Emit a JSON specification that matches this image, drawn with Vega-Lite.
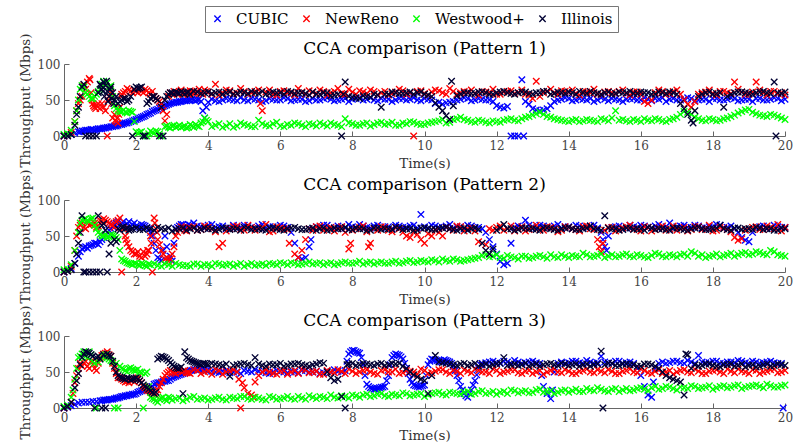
{
"$schema":"https://vega.github.io/schema/vega-lite/v6.json",
"background":"white",
"padding":{"left":18,"top":5,"right":5,"bottom":0},
"bounds":"flush",
"spacing":64,
"config":{
 "view":{"stroke":null},
 "font":"DejaVu Serif",
 "point":{"shape":"M-1,-1L1,1M-1,1L1,-1","filled":false,"size":42,"strokeWidth":1.35,"opacity":1},
 "axis":{"domainColor":"#666","tickColor":"#666","labelColor":"#444","titleColor":"#333","labelFont":"DejaVu Serif","titleFont":"DejaVu Serif","labelFontSize":12,"titleFontSize":13.5,"titleFontWeight":"normal","grid":false,"tickSize":-5,"labelPadding":9,"labelFlush":false},
 "axisX":{"titlePadding":5},
 "axisY":{"titlePadding":5},
 "title":{"font":"DejaVu Serif","fontSize":17,"fontWeight":"normal","color":"black","anchor":"middle","frame":"group","offset":-25},
 "legend":{"orient":"none","legendX":141,"legendY":-58,"direction":"horizontal","strokeColor":"#777","fillColor":"white","padding":5,"labelFont":"DejaVu Serif","labelFontSize":15,"labelColor":"black","labelOffset":11,"columnPadding":10,"symbolType":"M-1,-1L1,1M-1,1L1,-1","symbolSize":40,"symbolStrokeWidth":1.3}
},
"datasets":{
"p1c":[{"t":0,"y":0},{"t":0.1,"y":1},{"t":0.2,"y":2},{"t":0.3,"y":4},{"t":0.4,"y":6},{"t":0.5,"y":7},{"t":0.6,"y":8},{"t":0.7,"y":8},{"t":0.8,"y":9},{"t":0.9,"y":9},{"t":1,"y":10},{"t":1.1,"y":11},{"t":1.2,"y":12},{"t":1.3,"y":13},{"t":1.4,"y":14},{"t":1.5,"y":15},{"t":1.6,"y":16},{"t":1.7,"y":18},{"t":1.8,"y":19},{"t":1.9,"y":21},{"t":2,"y":23},{"t":2.1,"y":25},{"t":2.2,"y":27},{"t":2.3,"y":30},{"t":2.4,"y":32},{"t":2.5,"y":35},{"t":2.6,"y":37},{"t":2.7,"y":40},{"t":2.8,"y":42},{"t":2.9,"y":44},{"t":3,"y":46},{"t":3.1,"y":47},{"t":3.2,"y":48},{"t":3.3,"y":49},{"t":3.4,"y":49},{"t":3.5,"y":50},{"t":3.6,"y":50},{"t":3.7,"y":50},{"t":3.8,"y":48},{"t":3.85,"y":35},{"t":3.9,"y":25},{"t":3.95,"y":40},{"t":4,"y":47},{"t":4.2,"y":49},{"t":4.4,"y":50},{"t":4.6,"y":51},{"t":4.8,"y":49},{"t":5,"y":50},{"t":5.2,"y":52},{"t":5.4,"y":50},{"t":5.6,"y":49},{"t":5.8,"y":51},{"t":6,"y":50},{"t":6.2,"y":52},{"t":6.4,"y":50},{"t":6.6,"y":51},{"t":6.8,"y":49},{"t":7,"y":50},{"t":7.2,"y":52},{"t":7.4,"y":51},{"t":7.6,"y":50},{"t":7.8,"y":52},{"t":8,"y":51},{"t":8.2,"y":53},{"t":8.4,"y":51},{"t":8.6,"y":50},{"t":8.8,"y":52},{"t":9,"y":51},{"t":9.2,"y":50},{"t":9.4,"y":52},{"t":9.6,"y":51},{"t":9.8,"y":50},{"t":10,"y":52},{"t":10.2,"y":50},{"t":10.4,"y":47},{"t":10.6,"y":46},{"t":10.8,"y":48},{"t":11,"y":51},{"t":11.2,"y":52},{"t":11.4,"y":50},{"t":11.6,"y":51},{"t":11.8,"y":50},{"t":12,"y":42},{"t":12.1,"y":40},{"t":12.2,"y":39},{"t":12.3,"y":41},{"t":12.4,"y":0},{"t":12.5,"y":0},{"t":12.6,"y":0},{"t":12.7,"y":78},{"t":12.75,"y":0},{"t":12.8,"y":48},{"t":12.9,"y":44},{"t":13,"y":38},{"t":13.1,"y":36},{"t":13.2,"y":35},{"t":13.3,"y":36},{"t":13.4,"y":38},{"t":13.5,"y":42},{"t":13.6,"y":48},{"t":13.8,"y":51},{"t":14,"y":52},{"t":14.2,"y":50},{"t":14.4,"y":51},{"t":14.6,"y":52},{"t":14.8,"y":50},{"t":15,"y":51},{"t":15.2,"y":52},{"t":15.4,"y":50},{"t":15.6,"y":51},{"t":15.8,"y":52},{"t":16,"y":50},{"t":16.2,"y":51},{"t":16.4,"y":52},{"t":16.6,"y":53},{"t":16.8,"y":51},{"t":17,"y":50},{"t":17.2,"y":51},{"t":17.4,"y":52},{"t":17.6,"y":50},{"t":17.8,"y":51},{"t":18,"y":52},{"t":18.2,"y":50},{"t":18.4,"y":51},{"t":18.6,"y":52},{"t":18.8,"y":50},{"t":19,"y":51},{"t":19.2,"y":52},{"t":19.4,"y":50},{"t":19.6,"y":51},{"t":19.8,"y":52},{"t":20,"y":51},
{"t":4.1,"y":51},{"t":4.3,"y":48},{"t":4.5,"y":52},{"t":4.7,"y":50},{"t":4.9,"y":53},{"t":5.1,"y":49},{"t":5.3,"y":51},{"t":5.5,"y":48},{"t":5.7,"y":52},{"t":5.9,"y":50},{"t":6.1,"y":53},{"t":6.3,"y":49},{"t":6.5,"y":51},{"t":6.7,"y":48},{"t":6.9,"y":52},{"t":7.1,"y":50},{"t":7.3,"y":53},{"t":7.5,"y":49},{"t":7.7,"y":51},{"t":7.9,"y":48},{"t":8.1,"y":52},{"t":8.3,"y":50},{"t":8.5,"y":53},{"t":8.7,"y":49},{"t":8.9,"y":51},{"t":9.1,"y":48},{"t":9.3,"y":52},{"t":9.5,"y":50},{"t":9.7,"y":53},{"t":9.9,"y":49},{"t":10.1,"y":51},{"t":10.3,"y":45},{"t":10.5,"y":44},{"t":10.7,"y":47},{"t":10.9,"y":50},{"t":11.1,"y":53},{"t":11.3,"y":49},{"t":11.5,"y":52},{"t":11.7,"y":50},{"t":11.9,"y":48},{"t":13.7,"y":50},{"t":13.9,"y":53},{"t":14.1,"y":49},{"t":14.3,"y":52},{"t":14.5,"y":50},{"t":14.7,"y":48},{"t":14.9,"y":53},{"t":15.1,"y":49},{"t":15.3,"y":51},{"t":15.5,"y":48},{"t":15.7,"y":52},{"t":15.9,"y":50},{"t":16.1,"y":53},{"t":16.3,"y":49},{"t":16.5,"y":51},{"t":16.7,"y":48},{"t":16.9,"y":52},{"t":17.1,"y":50},{"t":17.3,"y":53},{"t":17.5,"y":49},{"t":17.7,"y":51},{"t":17.9,"y":48},{"t":18.1,"y":52},{"t":18.3,"y":50},{"t":18.5,"y":53},{"t":18.7,"y":49},{"t":18.9,"y":51},{"t":19.1,"y":48},{"t":19.3,"y":52},{"t":19.5,"y":50},{"t":19.7,"y":53},{"t":19.9,"y":49},
{"t":0.45,"y":6},{"t":0.55,"y":7},{"t":0.65,"y":8},{"t":0.75,"y":9},{"t":0.85,"y":8},{"t":0.95,"y":10},{"t":1.05,"y":10},{"t":1.15,"y":11},{"t":1.25,"y":12},{"t":1.35,"y":13},{"t":1.45,"y":14},{"t":1.55,"y":16},{"t":1.65,"y":17},{"t":1.75,"y":18},{"t":1.85,"y":20},{"t":1.95,"y":22},{"t":2.05,"y":24},{"t":2.15,"y":26},{"t":2.25,"y":28},{"t":2.35,"y":31},{"t":2.45,"y":34},{"t":2.55,"y":36},{"t":2.65,"y":39},{"t":2.75,"y":41},{"t":2.85,"y":43},{"t":2.95,"y":45},{"t":3.05,"y":46},{"t":3.15,"y":47},{"t":3.25,"y":48},{"t":3.35,"y":49},{"t":3.45,"y":50},{"t":3.55,"y":51},{"t":3.65,"y":49},{"t":3.75,"y":51}],
"p1r":[{"t":0,"y":0},{"t":0.1,"y":1},{"t":0.2,"y":5},{"t":0.3,"y":20},{"t":0.35,"y":35},{"t":0.4,"y":45},{"t":0.5,"y":55},{"t":0.6,"y":65},{"t":0.7,"y":80},{"t":0.75,"y":60},{"t":0.8,"y":45},{"t":0.85,"y":40},{"t":0.9,"y":42},{"t":1,"y":38},{"t":1.05,"y":45},{"t":1.1,"y":40},{"t":1.2,"y":0},{"t":1.25,"y":55},{"t":1.3,"y":60},{"t":1.4,"y":30},{"t":1.45,"y":20},{"t":1.5,"y":18},{"t":1.55,"y":40},{"t":1.6,"y":58},{"t":1.7,"y":62},{"t":1.8,"y":64},{"t":1.9,"y":60},{"t":2,"y":62},{"t":2.1,"y":65},{"t":2.2,"y":60},{"t":2.3,"y":63},{"t":2.4,"y":58},{"t":2.5,"y":55},{"t":2.6,"y":50},{"t":2.7,"y":45},{"t":2.8,"y":21},{"t":2.85,"y":30},{"t":2.9,"y":55},{"t":3,"y":58},{"t":3.1,"y":60},{"t":3.2,"y":62},{"t":3.3,"y":58},{"t":3.4,"y":61},{"t":3.5,"y":63},{"t":3.6,"y":59},{"t":3.7,"y":62},{"t":3.8,"y":60},{"t":3.9,"y":64},{"t":4,"y":61},{"t":4.1,"y":58},{"t":4.2,"y":72},{"t":4.4,"y":60},{"t":4.6,"y":63},{"t":4.8,"y":59},{"t":5,"y":62},{"t":5.2,"y":60},{"t":5.4,"y":64},{"t":5.45,"y":45},{"t":5.5,"y":35},{"t":5.6,"y":61},{"t":5.8,"y":58},{"t":6,"y":62},{"t":6.2,"y":60},{"t":6.4,"y":57},{"t":6.6,"y":61},{"t":6.8,"y":63},{"t":7,"y":59},{"t":7.2,"y":62},{"t":7.4,"y":60},{"t":7.6,"y":66},{"t":7.8,"y":58},{"t":8,"y":61},{"t":8.2,"y":63},{"t":8.4,"y":59},{"t":8.6,"y":62},{"t":8.8,"y":60},{"t":9,"y":57},{"t":9.2,"y":61},{"t":9.4,"y":63},{"t":9.6,"y":60},{"t":9.7,"y":0},{"t":9.8,"y":62},{"t":10,"y":59},{"t":10.2,"y":61},{"t":10.4,"y":63},{"t":10.6,"y":58},{"t":10.8,"y":62},{"t":11,"y":60},{"t":11.2,"y":61},{"t":11.4,"y":59},{"t":11.6,"y":62},{"t":11.8,"y":60},{"t":12,"y":58},{"t":12.2,"y":61},{"t":12.4,"y":63},{"t":12.6,"y":60},{"t":12.8,"y":58},{"t":13,"y":52},{"t":13.1,"y":76},{"t":13.2,"y":55},{"t":13.4,"y":62},{"t":13.6,"y":60},{"t":13.8,"y":63},{"t":14,"y":61},{"t":14.2,"y":59},{"t":14.4,"y":62},{"t":14.6,"y":60},{"t":14.8,"y":58},{"t":15,"y":61},{"t":15.2,"y":60},{"t":15.4,"y":62},{"t":15.6,"y":59},{"t":15.8,"y":61},{"t":16,"y":58},{"t":16.1,"y":48},{"t":16.2,"y":45},{"t":16.3,"y":50},{"t":16.4,"y":60},{"t":16.6,"y":62},{"t":16.8,"y":59},{"t":17,"y":64},{"t":17.1,"y":58},{"t":17.2,"y":50},{"t":17.3,"y":44},{"t":17.4,"y":40},{"t":17.5,"y":48},{"t":17.6,"y":58},{"t":17.8,"y":61},{"t":18,"y":59},{"t":18.2,"y":62},{"t":18.4,"y":60},{"t":18.6,"y":75},{"t":18.8,"y":61},{"t":19,"y":58},{"t":19.2,"y":75},{"t":19.4,"y":60},{"t":19.6,"y":62},{"t":19.8,"y":59},{"t":20,"y":57},
{"t":4.3,"y":57},{"t":4.5,"y":64},{"t":4.7,"y":59},{"t":4.9,"y":66},{"t":5.1,"y":58},{"t":5.3,"y":62},{"t":5.7,"y":64},{"t":5.9,"y":57},{"t":6.1,"y":63},{"t":6.3,"y":60},{"t":6.5,"y":66},{"t":6.7,"y":58},{"t":6.9,"y":61},{"t":7.1,"y":64},{"t":7.3,"y":57},{"t":7.5,"y":62},{"t":7.7,"y":59},{"t":7.9,"y":65},{"t":8.1,"y":58},{"t":8.3,"y":61},{"t":8.5,"y":64},{"t":8.7,"y":57},{"t":8.9,"y":62},{"t":9.1,"y":59},{"t":9.3,"y":65},{"t":9.5,"y":58},{"t":9.9,"y":63},{"t":10.1,"y":57},{"t":10.3,"y":64},{"t":10.5,"y":60},{"t":10.7,"y":66},{"t":10.9,"y":58},{"t":11.1,"y":62},{"t":11.3,"y":64},{"t":11.5,"y":57},{"t":11.7,"y":61},{"t":11.9,"y":65},{"t":12.1,"y":58},{"t":12.3,"y":62},{"t":12.5,"y":59},{"t":12.7,"y":64},{"t":12.9,"y":57},{"t":13.3,"y":60},{"t":13.5,"y":65},{"t":13.7,"y":58},{"t":13.9,"y":62},{"t":14.1,"y":64},{"t":14.3,"y":57},{"t":14.5,"y":61},{"t":14.7,"y":65},{"t":14.9,"y":58},{"t":15.1,"y":62},{"t":15.3,"y":59},{"t":15.5,"y":64},{"t":15.7,"y":57},{"t":15.9,"y":61},{"t":16.5,"y":64},{"t":16.7,"y":58},{"t":16.9,"y":62},{"t":17.7,"y":60},{"t":17.9,"y":64},{"t":18.1,"y":57},{"t":18.3,"y":62},{"t":18.5,"y":59},{"t":18.7,"y":65},{"t":18.9,"y":58},{"t":19.1,"y":61},{"t":19.3,"y":64},{"t":19.5,"y":57},{"t":19.7,"y":62},{"t":19.9,"y":60},
{"t":0.45,"y":50},{"t":0.55,"y":70},{"t":0.65,"y":75},{"t":0.72,"y":78},{"t":0.78,"y":50},{"t":0.82,"y":42},{"t":0.88,"y":38},{"t":0.95,"y":45},{"t":1.15,"y":35},{"t":1.22,"y":50},{"t":1.32,"y":45},{"t":1.35,"y":25},{"t":1.42,"y":22},{"t":1.48,"y":25},{"t":1.52,"y":30},{"t":1.58,"y":55},{"t":1.65,"y":60},{"t":1.75,"y":66},{"t":1.85,"y":62},{"t":1.95,"y":64},{"t":2.05,"y":60},{"t":2.15,"y":62},{"t":2.25,"y":65},{"t":2.35,"y":60},{"t":2.45,"y":62},{"t":2.55,"y":52},{"t":2.65,"y":48},{"t":2.75,"y":35},{"t":2.95,"y":60},{"t":3.05,"y":62},{"t":3.15,"y":58},{"t":3.25,"y":64},{"t":3.35,"y":60},{"t":3.45,"y":58},{"t":3.55,"y":62},{"t":3.65,"y":60},{"t":3.75,"y":65},{"t":3.85,"y":58},{"t":3.95,"y":62}],
"p1g":[{"t":0,"y":2},{"t":0.1,"y":3},{"t":0.2,"y":8},{"t":0.3,"y":20},{"t":0.35,"y":35},{"t":0.4,"y":50},{"t":0.45,"y":65},{"t":0.5,"y":70},{"t":0.55,"y":68},{"t":0.6,"y":60},{"t":0.7,"y":55},{"t":0.8,"y":52},{"t":0.9,"y":58},{"t":1,"y":65},{"t":1.05,"y":72},{"t":1.1,"y":76},{"t":1.2,"y":74},{"t":1.3,"y":70},{"t":1.35,"y":55},{"t":1.4,"y":42},{"t":1.5,"y":35},{"t":1.6,"y":34},{"t":1.7,"y":33},{"t":1.8,"y":35},{"t":1.9,"y":33},{"t":2,"y":6},{"t":2.1,"y":5},{"t":2.2,"y":0},{"t":2.3,"y":0},{"t":2.4,"y":7},{"t":2.5,"y":4},{"t":2.6,"y":6},{"t":2.7,"y":0},{"t":2.8,"y":13},{"t":2.9,"y":12},{"t":3,"y":14},{"t":3.1,"y":12},{"t":3.2,"y":15},{"t":3.3,"y":13},{"t":3.4,"y":11},{"t":3.5,"y":16},{"t":3.6,"y":12},{"t":3.7,"y":14},{"t":3.8,"y":18},{"t":3.9,"y":25},{"t":4,"y":20},{"t":4.2,"y":15},{"t":4.4,"y":12},{"t":4.6,"y":17},{"t":4.8,"y":14},{"t":5,"y":16},{"t":5.2,"y":13},{"t":5.4,"y":22},{"t":5.6,"y":15},{"t":5.8,"y":17},{"t":6,"y":14},{"t":6.2,"y":16},{"t":6.4,"y":18},{"t":6.6,"y":15},{"t":6.8,"y":17},{"t":7,"y":14},{"t":7.2,"y":16},{"t":7.4,"y":18},{"t":7.6,"y":15},{"t":7.8,"y":24},{"t":8,"y":17},{"t":8.2,"y":15},{"t":8.4,"y":18},{"t":8.6,"y":16},{"t":8.8,"y":19},{"t":9,"y":17},{"t":9.2,"y":15},{"t":9.4,"y":18},{"t":9.6,"y":20},{"t":9.8,"y":17},{"t":10,"y":16},{"t":10.2,"y":19},{"t":10.4,"y":21},{"t":10.6,"y":18},{"t":10.8,"y":23},{"t":11,"y":26},{"t":11.2,"y":22},{"t":11.4,"y":19},{"t":11.6,"y":21},{"t":11.8,"y":18},{"t":12,"y":20},{"t":12.2,"y":22},{"t":12.4,"y":24},{"t":12.6,"y":21},{"t":12.8,"y":26},{"t":13,"y":29},{"t":13.2,"y":33},{"t":13.4,"y":27},{"t":13.6,"y":24},{"t":13.8,"y":22},{"t":14,"y":20},{"t":14.2,"y":23},{"t":14.4,"y":21},{"t":14.6,"y":22},{"t":14.8,"y":20},{"t":15,"y":23},{"t":15.2,"y":25},{"t":15.3,"y":35},{"t":15.4,"y":22},{"t":15.6,"y":21},{"t":15.8,"y":23},{"t":16,"y":20},{"t":16.2,"y":22},{"t":16.4,"y":24},{"t":16.6,"y":21},{"t":16.8,"y":23},{"t":17,"y":26},{"t":17.2,"y":34},{"t":17.4,"y":30},{"t":17.6,"y":24},{"t":17.8,"y":21},{"t":18,"y":23},{"t":18.2,"y":22},{"t":18.4,"y":25},{"t":18.6,"y":29},{"t":18.8,"y":34},{"t":19,"y":37},{"t":19.2,"y":31},{"t":19.4,"y":28},{"t":19.6,"y":30},{"t":19.8,"y":27},{"t":20,"y":23},
{"t":4.1,"y":13},{"t":4.3,"y":17},{"t":4.5,"y":14},{"t":4.7,"y":12},{"t":4.9,"y":18},{"t":5.1,"y":15},{"t":5.3,"y":13},{"t":5.5,"y":17},{"t":5.7,"y":14},{"t":5.9,"y":19},{"t":6.1,"y":13},{"t":6.3,"y":15},{"t":6.5,"y":17},{"t":6.7,"y":13},{"t":6.9,"y":16},{"t":7.1,"y":18},{"t":7.3,"y":14},{"t":7.5,"y":16},{"t":7.7,"y":13},{"t":7.9,"y":18},{"t":8.1,"y":15},{"t":8.3,"y":17},{"t":8.5,"y":14},{"t":8.7,"y":18},{"t":8.9,"y":16},{"t":9.1,"y":19},{"t":9.3,"y":15},{"t":9.5,"y":17},{"t":9.7,"y":19},{"t":9.9,"y":16},{"t":10.1,"y":18},{"t":10.3,"y":20},{"t":10.5,"y":23},{"t":10.7,"y":19},{"t":10.9,"y":24},{"t":11.1,"y":23},{"t":11.3,"y":20},{"t":11.5,"y":22},{"t":11.7,"y":19},{"t":11.9,"y":21},{"t":12.1,"y":19},{"t":12.3,"y":23},{"t":12.5,"y":22},{"t":12.7,"y":24},{"t":12.9,"y":27},{"t":13.1,"y":31},{"t":13.3,"y":30},{"t":13.5,"y":26},{"t":13.7,"y":23},{"t":13.9,"y":21},{"t":14.1,"y":22},{"t":14.3,"y":20},{"t":14.5,"y":23},{"t":14.7,"y":21},{"t":14.9,"y":24},{"t":15.1,"y":21},{"t":15.5,"y":23},{"t":15.7,"y":20},{"t":15.9,"y":22},{"t":16.1,"y":24},{"t":16.3,"y":21},{"t":16.5,"y":23},{"t":16.7,"y":20},{"t":16.9,"y":24},{"t":17.1,"y":30},{"t":17.3,"y":33},{"t":17.5,"y":26},{"t":17.7,"y":22},{"t":17.9,"y":24},{"t":18.1,"y":21},{"t":18.3,"y":24},{"t":18.5,"y":27},{"t":18.7,"y":32},{"t":18.9,"y":36},{"t":19.1,"y":33},{"t":19.3,"y":29},{"t":19.5,"y":27},{"t":19.7,"y":29},{"t":19.9,"y":25},
{"t":0.65,"y":58},{"t":0.75,"y":52},{"t":0.85,"y":55},{"t":0.95,"y":62},{"t":1.15,"y":72},{"t":1.25,"y":68},{"t":1.45,"y":38},{"t":1.55,"y":34},{"t":1.65,"y":36},{"t":1.75,"y":32},{"t":1.85,"y":34},{"t":1.95,"y":20},{"t":2.05,"y":4},{"t":2.15,"y":6},{"t":2.35,"y":3},{"t":2.45,"y":5},{"t":2.55,"y":7},{"t":2.65,"y":3},{"t":2.85,"y":14},{"t":2.95,"y":11},{"t":3.05,"y":15},{"t":3.15,"y":13},{"t":3.25,"y":12},{"t":3.35,"y":14},{"t":3.45,"y":12},{"t":3.55,"y":14},{"t":3.65,"y":16},{"t":3.75,"y":13},{"t":3.85,"y":20},{"t":3.95,"y":22}],
"p1i":[{"t":0,"y":0},{"t":0.1,"y":0},{"t":0.2,"y":2},{"t":0.3,"y":15},{"t":0.35,"y":30},{"t":0.4,"y":40},{"t":0.45,"y":55},{"t":0.5,"y":68},{"t":0.55,"y":72},{"t":0.6,"y":0},{"t":0.7,"y":0},{"t":0.8,"y":0},{"t":0.9,"y":0},{"t":0.95,"y":60},{"t":1,"y":72},{"t":1.05,"y":65},{"t":1.1,"y":75},{"t":1.15,"y":70},{"t":1.2,"y":62},{"t":1.25,"y":55},{"t":1.3,"y":68},{"t":1.35,"y":60},{"t":1.4,"y":50},{"t":1.5,"y":45},{"t":1.6,"y":50},{"t":1.7,"y":52},{"t":1.8,"y":50},{"t":1.9,"y":0},{"t":1.95,"y":65},{"t":2,"y":68},{"t":2.1,"y":67},{"t":2.2,"y":0},{"t":2.25,"y":0},{"t":2.3,"y":45},{"t":2.4,"y":52},{"t":2.5,"y":55},{"t":2.6,"y":50},{"t":2.65,"y":0},{"t":2.7,"y":40},{"t":2.75,"y":0},{"t":2.8,"y":50},{"t":2.9,"y":58},{"t":3,"y":60},{"t":3.1,"y":61},{"t":3.2,"y":59},{"t":3.4,"y":60},{"t":3.6,"y":62},{"t":3.8,"y":59},{"t":4,"y":61},{"t":4.2,"y":60},{"t":4.4,"y":58},{"t":4.6,"y":61},{"t":4.8,"y":59},{"t":5,"y":60},{"t":5.2,"y":62},{"t":5.4,"y":59},{"t":5.6,"y":58},{"t":5.8,"y":61},{"t":6,"y":60},{"t":6.2,"y":62},{"t":6.4,"y":59},{"t":6.6,"y":60},{"t":6.8,"y":57},{"t":7,"y":58},{"t":7.2,"y":60},{"t":7.4,"y":56},{"t":7.6,"y":58},{"t":7.7,"y":0},{"t":7.75,"y":58},{"t":7.8,"y":75},{"t":7.9,"y":55},{"t":8,"y":54},{"t":8.2,"y":52},{"t":8.4,"y":55},{"t":8.6,"y":58},{"t":8.8,"y":40},{"t":9,"y":58},{"t":9.2,"y":60},{"t":9.4,"y":59},{"t":9.6,"y":61},{"t":9.8,"y":60},{"t":10,"y":58},{"t":10.2,"y":55},{"t":10.3,"y":46},{"t":10.4,"y":40},{"t":10.5,"y":35},{"t":10.6,"y":28},{"t":10.7,"y":23},{"t":10.75,"y":76},{"t":10.8,"y":42},{"t":11,"y":58},{"t":11.2,"y":60},{"t":11.4,"y":59},{"t":11.6,"y":61},{"t":11.8,"y":58},{"t":12,"y":60},{"t":12.2,"y":62},{"t":12.4,"y":59},{"t":12.6,"y":60},{"t":12.8,"y":61},{"t":13,"y":58},{"t":13.2,"y":60},{"t":13.4,"y":62},{"t":13.6,"y":59},{"t":13.8,"y":60},{"t":14,"y":61},{"t":14.2,"y":58},{"t":14.4,"y":60},{"t":14.6,"y":62},{"t":14.8,"y":59},{"t":15,"y":60},{"t":15.2,"y":58},{"t":15.4,"y":61},{"t":15.6,"y":60},{"t":15.8,"y":59},{"t":16,"y":61},{"t":16.2,"y":60},{"t":16.4,"y":58},{"t":16.6,"y":60},{"t":16.8,"y":61},{"t":17,"y":58},{"t":17.1,"y":45},{"t":17.2,"y":38},{"t":17.3,"y":30},{"t":17.4,"y":22},{"t":17.45,"y":18},{"t":17.5,"y":35},{"t":17.6,"y":55},{"t":17.8,"y":60},{"t":18,"y":58},{"t":18.2,"y":60},{"t":18.3,"y":40},{"t":18.4,"y":55},{"t":18.6,"y":60},{"t":18.8,"y":61},{"t":19,"y":59},{"t":19.2,"y":60},{"t":19.4,"y":62},{"t":19.6,"y":59},{"t":19.7,"y":75},{"t":19.75,"y":0},{"t":19.8,"y":60},{"t":20,"y":61},
{"t":3.3,"y":60},{"t":3.5,"y":58},{"t":3.7,"y":61},{"t":3.9,"y":60},{"t":4.1,"y":59},{"t":4.3,"y":61},{"t":4.5,"y":60},{"t":4.7,"y":58},{"t":4.9,"y":61},{"t":5.1,"y":59},{"t":5.3,"y":60},{"t":5.5,"y":62},{"t":5.7,"y":59},{"t":5.9,"y":60},{"t":6.1,"y":58},{"t":6.3,"y":61},{"t":6.5,"y":60},{"t":6.7,"y":59},{"t":6.9,"y":61},{"t":7.1,"y":58},{"t":7.3,"y":60},{"t":7.5,"y":57},{"t":8.1,"y":53},{"t":8.3,"y":56},{"t":8.5,"y":54},{"t":8.7,"y":57},{"t":8.9,"y":58},{"t":9.1,"y":61},{"t":9.3,"y":59},{"t":9.5,"y":60},{"t":9.7,"y":58},{"t":9.9,"y":61},{"t":10.1,"y":57},{"t":10.9,"y":56},{"t":11.1,"y":60},{"t":11.3,"y":59},{"t":11.5,"y":61},{"t":11.7,"y":60},{"t":11.9,"y":58},{"t":12.1,"y":61},{"t":12.3,"y":60},{"t":12.5,"y":58},{"t":12.7,"y":61},{"t":12.9,"y":59},{"t":13.1,"y":60},{"t":13.3,"y":62},{"t":13.5,"y":58},{"t":13.7,"y":61},{"t":13.9,"y":59},{"t":14.1,"y":60},{"t":14.3,"y":62},{"t":14.5,"y":59},{"t":14.7,"y":60},{"t":14.9,"y":58},{"t":15.1,"y":61},{"t":15.3,"y":59},{"t":15.5,"y":60},{"t":15.7,"y":62},{"t":15.9,"y":59},{"t":16.1,"y":60},{"t":16.3,"y":58},{"t":16.5,"y":61},{"t":16.7,"y":59},{"t":16.9,"y":60},{"t":17.7,"y":58},{"t":17.9,"y":61},{"t":18.1,"y":59},{"t":18.5,"y":58},{"t":18.7,"y":61},{"t":18.9,"y":60},{"t":19.1,"y":58},{"t":19.3,"y":61},{"t":19.5,"y":60},{"t":19.9,"y":59},
{"t":1.02,"y":70},{"t":1.08,"y":62},{"t":1.12,"y":55},{"t":1.18,"y":76},{"t":1.22,"y":48},{"t":1.28,"y":65},{"t":1.32,"y":52},{"t":1.38,"y":45},{"t":1.45,"y":55},{"t":1.55,"y":48},{"t":1.65,"y":52},{"t":1.75,"y":48},{"t":1.85,"y":55},{"t":2.05,"y":66},{"t":2.15,"y":68},{"t":2.35,"y":48},{"t":2.45,"y":55},{"t":2.55,"y":52},{"t":2.85,"y":55},{"t":2.95,"y":60},{"t":3.05,"y":58},{"t":3.15,"y":60},{"t":3.25,"y":62},{"t":3.35,"y":58},{"t":3.45,"y":61}],
"p2c":[{"t":0,"y":0},{"t":0.1,"y":2},{"t":0.2,"y":5},{"t":0.3,"y":12},{"t":0.4,"y":22},{"t":0.45,"y":28},{"t":0.5,"y":32},{"t":0.6,"y":35},{"t":0.7,"y":36},{"t":0.8,"y":38},{"t":0.9,"y":40},{"t":1,"y":42},{"t":1.1,"y":48},{"t":1.2,"y":55},{"t":1.3,"y":60},{"t":1.4,"y":66},{"t":1.5,"y":70},{"t":1.6,"y":68},{"t":1.7,"y":65},{"t":1.8,"y":70},{"t":1.9,"y":66},{"t":2,"y":64},{"t":2.1,"y":62},{"t":2.2,"y":65},{"t":2.3,"y":62},{"t":2.4,"y":55},{"t":2.5,"y":40},{"t":2.6,"y":20},{"t":2.7,"y":16},{"t":2.75,"y":30},{"t":2.8,"y":50},{"t":2.85,"y":35},{"t":2.9,"y":18},{"t":3,"y":15},{"t":3.05,"y":40},{"t":3.1,"y":60},{"t":3.2,"y":64},{"t":3.3,"y":66},{"t":3.4,"y":62},{"t":3.5,"y":65},{"t":3.6,"y":68},{"t":3.8,"y":63},{"t":4,"y":65},{"t":4.2,"y":62},{"t":4.4,"y":64},{"t":4.6,"y":61},{"t":4.8,"y":63},{"t":5,"y":65},{"t":5.2,"y":62},{"t":5.4,"y":64},{"t":5.6,"y":61},{"t":5.8,"y":63},{"t":6,"y":65},{"t":6.2,"y":62},{"t":6.3,"y":55},{"t":6.4,"y":40},{"t":6.5,"y":20},{"t":6.6,"y":18},{"t":6.7,"y":20},{"t":6.8,"y":35},{"t":6.85,"y":45},{"t":6.9,"y":60},{"t":7,"y":63},{"t":7.2,"y":65},{"t":7.4,"y":62},{"t":7.6,"y":64},{"t":7.8,"y":61},{"t":8,"y":63},{"t":8.2,"y":66},{"t":8.4,"y":62},{"t":8.6,"y":64},{"t":8.8,"y":61},{"t":9,"y":63},{"t":9.2,"y":65},{"t":9.4,"y":62},{"t":9.6,"y":64},{"t":9.8,"y":61},{"t":9.9,"y":80},{"t":10,"y":63},{"t":10.2,"y":65},{"t":10.4,"y":62},{"t":10.6,"y":64},{"t":10.8,"y":61},{"t":11,"y":63},{"t":11.2,"y":65},{"t":11.4,"y":62},{"t":11.6,"y":60},{"t":11.7,"y":55},{"t":11.8,"y":45},{"t":11.9,"y":35},{"t":12,"y":25},{"t":12.1,"y":15},{"t":12.2,"y":10},{"t":12.3,"y":12},{"t":12.4,"y":40},{"t":12.5,"y":62},{"t":12.6,"y":64},{"t":12.8,"y":72},{"t":13,"y":63},{"t":13.2,"y":65},{"t":13.4,"y":62},{"t":13.6,"y":64},{"t":13.8,"y":61},{"t":14,"y":63},{"t":14.2,"y":65},{"t":14.4,"y":62},{"t":14.6,"y":64},{"t":14.8,"y":61},{"t":14.9,"y":55},{"t":14.95,"y":45},{"t":15,"y":35},{"t":15.05,"y":30},{"t":15.1,"y":50},{"t":15.2,"y":62},{"t":15.4,"y":64},{"t":15.6,"y":61},{"t":15.8,"y":63},{"t":16,"y":65},{"t":16.2,"y":62},{"t":16.4,"y":64},{"t":16.6,"y":61},{"t":16.8,"y":68},{"t":17,"y":63},{"t":17.2,"y":65},{"t":17.4,"y":62},{"t":17.6,"y":64},{"t":17.8,"y":61},{"t":18,"y":63},{"t":18.2,"y":65},{"t":18.4,"y":62},{"t":18.6,"y":60},{"t":18.7,"y":55},{"t":18.8,"y":48},{"t":18.9,"y":44},{"t":19,"y":42},{"t":19.1,"y":55},{"t":19.2,"y":62},{"t":19.4,"y":64},{"t":19.6,"y":61},{"t":19.8,"y":63},{"t":20,"y":62},
{"t":3.7,"y":64},{"t":3.9,"y":61},{"t":4.1,"y":66},{"t":4.3,"y":63},{"t":4.5,"y":60},{"t":4.7,"y":65},{"t":4.9,"y":62},{"t":5.1,"y":64},{"t":5.3,"y":61},{"t":5.5,"y":66},{"t":5.7,"y":63},{"t":5.9,"y":60},{"t":6.1,"y":64},{"t":7.1,"y":62},{"t":7.3,"y":65},{"t":7.5,"y":61},{"t":7.7,"y":63},{"t":7.9,"y":66},{"t":8.1,"y":62},{"t":8.3,"y":64},{"t":8.5,"y":61},{"t":8.7,"y":65},{"t":8.9,"y":63},{"t":9.1,"y":60},{"t":9.3,"y":64},{"t":9.5,"y":62},{"t":9.7,"y":65},{"t":10.1,"y":61},{"t":10.3,"y":64},{"t":10.5,"y":62},{"t":10.7,"y":66},{"t":10.9,"y":63},{"t":11.1,"y":60},{"t":11.3,"y":64},{"t":11.5,"y":62},{"t":12.7,"y":63},{"t":12.9,"y":65},{"t":13.1,"y":61},{"t":13.3,"y":64},{"t":13.5,"y":62},{"t":13.7,"y":66},{"t":13.9,"y":63},{"t":14.1,"y":60},{"t":14.3,"y":64},{"t":14.5,"y":62},{"t":14.7,"y":65},{"t":15.3,"y":63},{"t":15.5,"y":61},{"t":15.7,"y":65},{"t":15.9,"y":62},{"t":16.1,"y":64},{"t":16.3,"y":61},{"t":16.5,"y":66},{"t":16.7,"y":63},{"t":16.9,"y":60},{"t":17.1,"y":64},{"t":17.3,"y":62},{"t":17.5,"y":65},{"t":17.7,"y":61},{"t":17.9,"y":63},{"t":18.1,"y":66},{"t":18.3,"y":62},{"t":18.5,"y":64},{"t":19.3,"y":63},{"t":19.5,"y":61},{"t":19.7,"y":65},{"t":19.9,"y":62},
{"t":0.55,"y":34},{"t":0.65,"y":33},{"t":0.75,"y":37},{"t":0.85,"y":40},{"t":0.95,"y":38},{"t":1.05,"y":45},{"t":1.15,"y":52},{"t":1.25,"y":58},{"t":1.35,"y":63},{"t":1.45,"y":68},{"t":1.55,"y":66},{"t":1.65,"y":70},{"t":1.75,"y":67},{"t":1.85,"y":64},{"t":1.95,"y":68},{"t":2.05,"y":63},{"t":2.15,"y":66},{"t":2.25,"y":64},{"t":2.35,"y":60},{"t":2.45,"y":50},{"t":2.55,"y":30},{"t":2.65,"y":18},{"t":2.95,"y":22},{"t":3.15,"y":62},{"t":3.25,"y":66},{"t":3.35,"y":63},{"t":3.45,"y":66}],
"p2r":[{"t":0,"y":0},{"t":0.1,"y":2},{"t":0.2,"y":8},{"t":0.3,"y":30},{"t":0.35,"y":50},{"t":0.4,"y":62},{"t":0.5,"y":68},{"t":0.6,"y":60},{"t":0.7,"y":65},{"t":0.8,"y":70},{"t":0.9,"y":62},{"t":1,"y":72},{"t":1.1,"y":74},{"t":1.2,"y":70},{"t":1.3,"y":66},{"t":1.4,"y":62},{"t":1.5,"y":72},{"t":1.55,"y":75},{"t":1.6,"y":0},{"t":1.65,"y":60},{"t":1.7,"y":50},{"t":1.8,"y":35},{"t":1.9,"y":28},{"t":2,"y":25},{"t":2.1,"y":22},{"t":2.2,"y":28},{"t":2.3,"y":25},{"t":2.35,"y":30},{"t":2.4,"y":50},{"t":2.45,"y":0},{"t":2.5,"y":75},{"t":2.55,"y":60},{"t":2.6,"y":45},{"t":2.7,"y":30},{"t":2.8,"y":18},{"t":2.9,"y":15},{"t":3,"y":25},{"t":3.1,"y":50},{"t":3.2,"y":60},{"t":3.3,"y":62},{"t":3.4,"y":57},{"t":3.6,"y":63},{"t":3.8,"y":59},{"t":4,"y":62},{"t":4.2,"y":56},{"t":4.3,"y":35},{"t":4.4,"y":40},{"t":4.6,"y":60},{"t":4.8,"y":64},{"t":5,"y":58},{"t":5.2,"y":62},{"t":5.4,"y":60},{"t":5.6,"y":66},{"t":5.8,"y":57},{"t":6,"y":61},{"t":6.2,"y":59},{"t":6.25,"y":40},{"t":6.4,"y":25},{"t":6.5,"y":20},{"t":6.6,"y":30},{"t":6.7,"y":45},{"t":6.8,"y":60},{"t":7,"y":63},{"t":7.2,"y":58},{"t":7.4,"y":62},{"t":7.6,"y":60},{"t":7.8,"y":55},{"t":7.9,"y":32},{"t":7.95,"y":40},{"t":8,"y":58},{"t":8.2,"y":62},{"t":8.4,"y":56},{"t":8.45,"y":35},{"t":8.5,"y":40},{"t":8.6,"y":60},{"t":8.8,"y":63},{"t":9,"y":58},{"t":9.2,"y":62},{"t":9.4,"y":55},{"t":9.6,"y":48},{"t":9.8,"y":52},{"t":10,"y":40},{"t":10.2,"y":50},{"t":10.4,"y":55},{"t":10.6,"y":62},{"t":10.8,"y":58},{"t":11,"y":63},{"t":11.2,"y":60},{"t":11.4,"y":57},{"t":11.5,"y":42},{"t":11.7,"y":38},{"t":11.8,"y":60},{"t":12,"y":62},{"t":12.2,"y":58},{"t":12.4,"y":64},{"t":12.6,"y":60},{"t":12.8,"y":57},{"t":13,"y":62},{"t":13.2,"y":59},{"t":13.4,"y":63},{"t":13.6,"y":60},{"t":13.8,"y":58},{"t":14,"y":62},{"t":14.2,"y":59},{"t":14.4,"y":63},{"t":14.6,"y":60},{"t":14.8,"y":45},{"t":14.85,"y":35},{"t":14.9,"y":28},{"t":14.95,"y":40},{"t":15,"y":58},{"t":15.2,"y":62},{"t":15.4,"y":59},{"t":15.6,"y":63},{"t":15.8,"y":60},{"t":16,"y":57},{"t":16.2,"y":62},{"t":16.4,"y":59},{"t":16.6,"y":64},{"t":16.8,"y":60},{"t":17,"y":58},{"t":17.2,"y":62},{"t":17.4,"y":59},{"t":17.6,"y":63},{"t":17.8,"y":60},{"t":18,"y":57},{"t":18.2,"y":62},{"t":18.4,"y":59},{"t":18.6,"y":48},{"t":18.7,"y":44},{"t":18.8,"y":46},{"t":19,"y":60},{"t":19.2,"y":63},{"t":19.4,"y":59},{"t":19.6,"y":62},{"t":19.8,"y":66},{"t":20,"y":62},
{"t":3.5,"y":61},{"t":3.7,"y":58},{"t":3.9,"y":64},{"t":4.1,"y":60},{"t":4.5,"y":57},{"t":4.7,"y":63},{"t":4.9,"y":59},{"t":5.1,"y":65},{"t":5.3,"y":58},{"t":5.5,"y":62},{"t":5.7,"y":56},{"t":5.9,"y":63},{"t":6.1,"y":60},{"t":6.9,"y":58},{"t":7.1,"y":64},{"t":7.3,"y":60},{"t":7.5,"y":57},{"t":7.7,"y":63},{"t":8.1,"y":60},{"t":8.3,"y":64},{"t":8.7,"y":58},{"t":8.9,"y":62},{"t":9.1,"y":56},{"t":9.3,"y":60},{"t":9.5,"y":50},{"t":9.7,"y":55},{"t":9.9,"y":45},{"t":10.1,"y":53},{"t":10.3,"y":58},{"t":10.5,"y":50},{"t":10.7,"y":60},{"t":10.9,"y":64},{"t":11.1,"y":57},{"t":11.3,"y":61},{"t":11.9,"y":58},{"t":12.1,"y":64},{"t":12.3,"y":60},{"t":12.5,"y":57},{"t":12.7,"y":63},{"t":12.9,"y":59},{"t":13.1,"y":65},{"t":13.3,"y":58},{"t":13.5,"y":62},{"t":13.7,"y":56},{"t":13.9,"y":63},{"t":14.1,"y":60},{"t":14.3,"y":57},{"t":14.5,"y":64},{"t":14.7,"y":59},{"t":15.1,"y":62},{"t":15.3,"y":57},{"t":15.5,"y":61},{"t":15.7,"y":65},{"t":15.9,"y":59},{"t":16.1,"y":63},{"t":16.3,"y":57},{"t":16.5,"y":61},{"t":16.7,"y":58},{"t":16.9,"y":64},{"t":17.1,"y":60},{"t":17.3,"y":57},{"t":17.5,"y":63},{"t":17.7,"y":59},{"t":17.9,"y":65},{"t":18.1,"y":58},{"t":18.3,"y":61},{"t":18.5,"y":56},{"t":18.9,"y":58},{"t":19.1,"y":62},{"t":19.3,"y":59},{"t":19.5,"y":64},{"t":19.7,"y":60},{"t":19.9,"y":57},
{"t":0.45,"y":65},{"t":0.55,"y":62},{"t":0.65,"y":70},{"t":0.75,"y":66},{"t":0.85,"y":68},{"t":0.95,"y":64},{"t":1.05,"y":70},{"t":1.15,"y":72},{"t":1.25,"y":68},{"t":1.35,"y":65},{"t":1.45,"y":70},{"t":1.72,"y":45},{"t":1.75,"y":40},{"t":1.85,"y":30},{"t":1.95,"y":25},{"t":2.05,"y":28},{"t":2.15,"y":20},{"t":2.25,"y":22},{"t":2.32,"y":30},{"t":2.42,"y":40},{"t":2.52,"y":68},{"t":2.58,"y":55},{"t":2.65,"y":38},{"t":2.75,"y":25},{"t":2.85,"y":20},{"t":2.95,"y":18},{"t":3.05,"y":35},{"t":3.15,"y":55},{"t":3.25,"y":63},{"t":3.35,"y":58},{"t":3.45,"y":62}],
"p2g":[{"t":0,"y":3},{"t":0.1,"y":4},{"t":0.2,"y":10},{"t":0.3,"y":30},{"t":0.4,"y":55},{"t":0.45,"y":68},{"t":0.5,"y":72},{"t":0.6,"y":74},{"t":0.7,"y":70},{"t":0.8,"y":75},{"t":0.9,"y":60},{"t":1,"y":52},{"t":1.1,"y":50},{"t":1.2,"y":48},{"t":1.3,"y":52},{"t":1.4,"y":50},{"t":1.5,"y":45},{"t":1.6,"y":18},{"t":1.7,"y":15},{"t":1.8,"y":12},{"t":1.9,"y":10},{"t":2,"y":12},{"t":2.1,"y":9},{"t":2.2,"y":11},{"t":2.3,"y":8},{"t":2.4,"y":10},{"t":2.6,"y":9},{"t":2.8,"y":11},{"t":3,"y":8},{"t":3.2,"y":10},{"t":3.4,"y":9},{"t":3.6,"y":11},{"t":3.8,"y":8},{"t":4,"y":10},{"t":4.2,"y":12},{"t":4.4,"y":9},{"t":4.6,"y":11},{"t":4.8,"y":10},{"t":5,"y":8},{"t":5.2,"y":12},{"t":5.4,"y":10},{"t":5.6,"y":9},{"t":5.8,"y":11},{"t":6,"y":13},{"t":6.2,"y":10},{"t":6.4,"y":12},{"t":6.6,"y":11},{"t":6.8,"y":14},{"t":7,"y":12},{"t":7.2,"y":10},{"t":7.4,"y":13},{"t":7.6,"y":11},{"t":7.8,"y":14},{"t":8,"y":12},{"t":8.2,"y":15},{"t":8.4,"y":13},{"t":8.6,"y":11},{"t":8.8,"y":14},{"t":9,"y":12},{"t":9.2,"y":15},{"t":9.4,"y":13},{"t":9.6,"y":16},{"t":9.8,"y":14},{"t":10,"y":15},{"t":10.2,"y":17},{"t":10.4,"y":14},{"t":10.6,"y":16},{"t":10.8,"y":18},{"t":11,"y":15},{"t":11.2,"y":17},{"t":11.4,"y":19},{"t":11.6,"y":23},{"t":11.8,"y":21},{"t":12,"y":24},{"t":12.2,"y":19},{"t":12.4,"y":21},{"t":12.6,"y":18},{"t":12.8,"y":22},{"t":13,"y":20},{"t":13.2,"y":23},{"t":13.4,"y":19},{"t":13.6,"y":21},{"t":13.8,"y":24},{"t":14,"y":20},{"t":14.2,"y":22},{"t":14.4,"y":26},{"t":14.6,"y":21},{"t":14.8,"y":23},{"t":15,"y":20},{"t":15.2,"y":24},{"t":15.4,"y":22},{"t":15.6,"y":25},{"t":15.8,"y":21},{"t":16,"y":23},{"t":16.2,"y":20},{"t":16.4,"y":26},{"t":16.6,"y":22},{"t":16.8,"y":24},{"t":17,"y":21},{"t":17.2,"y":25},{"t":17.4,"y":28},{"t":17.6,"y":22},{"t":17.8,"y":20},{"t":18,"y":23},{"t":18.2,"y":21},{"t":18.4,"y":24},{"t":18.6,"y":22},{"t":18.8,"y":26},{"t":19,"y":24},{"t":19.2,"y":28},{"t":19.4,"y":25},{"t":19.6,"y":30},{"t":19.8,"y":24},{"t":20,"y":22},
{"t":2.5,"y":11},{"t":2.7,"y":8},{"t":2.9,"y":10},{"t":3.1,"y":12},{"t":3.3,"y":9},{"t":3.5,"y":8},{"t":3.7,"y":11},{"t":3.9,"y":10},{"t":4.1,"y":8},{"t":4.3,"y":11},{"t":4.5,"y":10},{"t":4.7,"y":8},{"t":4.9,"y":12},{"t":5.1,"y":10},{"t":5.3,"y":9},{"t":5.5,"y":11},{"t":5.7,"y":12},{"t":5.9,"y":10},{"t":6.1,"y":12},{"t":6.3,"y":13},{"t":6.5,"y":10},{"t":6.7,"y":12},{"t":6.9,"y":11},{"t":7.1,"y":13},{"t":7.3,"y":12},{"t":7.5,"y":10},{"t":7.7,"y":13},{"t":7.9,"y":12},{"t":8.1,"y":13},{"t":8.3,"y":11},{"t":8.5,"y":14},{"t":8.7,"y":13},{"t":8.9,"y":12},{"t":9.1,"y":14},{"t":9.3,"y":12},{"t":9.5,"y":15},{"t":9.7,"y":13},{"t":9.9,"y":16},{"t":10.1,"y":14},{"t":10.3,"y":16},{"t":10.5,"y":18},{"t":10.7,"y":15},{"t":10.9,"y":17},{"t":11.1,"y":16},{"t":11.3,"y":18},{"t":11.5,"y":20},{"t":11.7,"y":24},{"t":11.9,"y":22},{"t":12.1,"y":20},{"t":12.3,"y":23},{"t":12.5,"y":20},{"t":12.7,"y":22},{"t":12.9,"y":19},{"t":13.1,"y":22},{"t":13.3,"y":21},{"t":13.5,"y":24},{"t":13.7,"y":20},{"t":13.9,"y":22},{"t":14.1,"y":23},{"t":14.3,"y":21},{"t":14.5,"y":24},{"t":14.7,"y":22},{"t":14.9,"y":25},{"t":15.1,"y":22},{"t":15.3,"y":21},{"t":15.5,"y":24},{"t":15.7,"y":22},{"t":15.9,"y":24},{"t":16.1,"y":21},{"t":16.3,"y":23},{"t":16.5,"y":25},{"t":16.7,"y":21},{"t":16.9,"y":23},{"t":17.1,"y":24},{"t":17.3,"y":22},{"t":17.5,"y":26},{"t":17.7,"y":24},{"t":17.9,"y":22},{"t":18.1,"y":25},{"t":18.3,"y":23},{"t":18.5,"y":26},{"t":18.7,"y":24},{"t":18.9,"y":27},{"t":19.1,"y":25},{"t":19.3,"y":27},{"t":19.5,"y":24},{"t":19.7,"y":28},{"t":19.9,"y":23},
{"t":0.55,"y":73},{"t":0.65,"y":72},{"t":0.75,"y":74},{"t":0.85,"y":65},{"t":0.95,"y":55},{"t":1.05,"y":50},{"t":1.15,"y":52},{"t":1.25,"y":49},{"t":1.35,"y":51},{"t":1.45,"y":48},{"t":1.55,"y":30},{"t":1.65,"y":16},{"t":1.75,"y":13},{"t":1.85,"y":11},{"t":1.95,"y":12},{"t":2.05,"y":10},{"t":2.15,"y":12},{"t":2.25,"y":9},{"t":2.35,"y":11}],
"p2i":[{"t":0,"y":0},{"t":0.1,"y":1},{"t":0.2,"y":3},{"t":0.3,"y":12},{"t":0.35,"y":25},{"t":0.4,"y":40},{"t":0.45,"y":55},{"t":0.5,"y":78},{"t":0.55,"y":0},{"t":0.6,"y":0},{"t":0.7,"y":0},{"t":0.8,"y":0},{"t":0.9,"y":0},{"t":0.95,"y":78},{"t":1,"y":0},{"t":1.05,"y":65},{"t":1.1,"y":67},{"t":1.15,"y":58},{"t":1.2,"y":0},{"t":1.25,"y":25},{"t":1.3,"y":40},{"t":1.4,"y":45},{"t":1.45,"y":42},{"t":1.5,"y":60},{"t":1.6,"y":62},{"t":1.7,"y":60},{"t":1.8,"y":58},{"t":2,"y":61},{"t":2.2,"y":59},{"t":2.4,"y":60},{"t":2.6,"y":62},{"t":2.8,"y":59},{"t":3,"y":57},{"t":3.2,"y":60},{"t":3.4,"y":58},{"t":3.6,"y":61},{"t":3.8,"y":59},{"t":4,"y":60},{"t":4.2,"y":58},{"t":4.4,"y":61},{"t":4.6,"y":59},{"t":4.8,"y":60},{"t":5,"y":62},{"t":5.2,"y":59},{"t":5.4,"y":60},{"t":5.6,"y":58},{"t":5.8,"y":61},{"t":6,"y":59},{"t":6.2,"y":60},{"t":6.4,"y":62},{"t":6.6,"y":59},{"t":6.8,"y":60},{"t":7,"y":58},{"t":7.2,"y":61},{"t":7.4,"y":59},{"t":7.6,"y":60},{"t":7.8,"y":62},{"t":8,"y":59},{"t":8.2,"y":60},{"t":8.4,"y":58},{"t":8.6,"y":61},{"t":8.8,"y":59},{"t":9,"y":60},{"t":9.2,"y":62},{"t":9.4,"y":59},{"t":9.6,"y":60},{"t":9.8,"y":58},{"t":10,"y":61},{"t":10.2,"y":59},{"t":10.4,"y":60},{"t":10.6,"y":62},{"t":10.8,"y":59},{"t":11,"y":60},{"t":11.2,"y":58},{"t":11.4,"y":61},{"t":11.6,"y":40},{"t":11.7,"y":30},{"t":11.8,"y":25},{"t":11.9,"y":32},{"t":12,"y":58},{"t":12.2,"y":66},{"t":12.4,"y":60},{"t":12.6,"y":59},{"t":12.8,"y":61},{"t":13,"y":60},{"t":13.2,"y":58},{"t":13.4,"y":61},{"t":13.6,"y":59},{"t":13.8,"y":60},{"t":14,"y":62},{"t":14.2,"y":59},{"t":14.4,"y":60},{"t":14.6,"y":64},{"t":14.8,"y":59},{"t":15,"y":78},{"t":15.2,"y":60},{"t":15.4,"y":58},{"t":15.6,"y":61},{"t":15.8,"y":59},{"t":16,"y":60},{"t":16.2,"y":62},{"t":16.4,"y":59},{"t":16.6,"y":60},{"t":16.8,"y":58},{"t":17,"y":61},{"t":17.2,"y":59},{"t":17.4,"y":60},{"t":17.6,"y":62},{"t":17.8,"y":59},{"t":18,"y":60},{"t":18.2,"y":65},{"t":18.4,"y":59},{"t":18.6,"y":61},{"t":18.8,"y":59},{"t":19,"y":60},{"t":19.2,"y":62},{"t":19.4,"y":59},{"t":19.6,"y":60},{"t":19.8,"y":58},{"t":20,"y":60},
{"t":1.9,"y":60},{"t":2.1,"y":59},{"t":2.3,"y":61},{"t":2.5,"y":58},{"t":2.7,"y":60},{"t":2.9,"y":61},{"t":3.1,"y":59},{"t":3.3,"y":61},{"t":3.5,"y":60},{"t":3.7,"y":58},{"t":3.9,"y":61},{"t":4.1,"y":60},{"t":4.3,"y":59},{"t":4.5,"y":61},{"t":4.7,"y":60},{"t":4.9,"y":58},{"t":5.1,"y":61},{"t":5.3,"y":60},{"t":5.5,"y":59},{"t":5.7,"y":61},{"t":5.9,"y":60},{"t":6.1,"y":58},{"t":6.3,"y":61},{"t":6.5,"y":60},{"t":6.7,"y":59},{"t":6.9,"y":61},{"t":7.1,"y":60},{"t":7.3,"y":58},{"t":7.5,"y":61},{"t":7.7,"y":60},{"t":7.9,"y":59},{"t":8.1,"y":61},{"t":8.3,"y":60},{"t":8.5,"y":58},{"t":8.7,"y":61},{"t":8.9,"y":60},{"t":9.1,"y":59},{"t":9.3,"y":61},{"t":9.5,"y":60},{"t":9.7,"y":58},{"t":9.9,"y":61},{"t":10.1,"y":60},{"t":10.3,"y":59},{"t":10.5,"y":61},{"t":10.7,"y":60},{"t":10.9,"y":58},{"t":11.1,"y":61},{"t":11.3,"y":60},{"t":11.5,"y":59},{"t":12.1,"y":61},{"t":12.3,"y":60},{"t":12.5,"y":58},{"t":12.7,"y":61},{"t":12.9,"y":60},{"t":13.1,"y":59},{"t":13.3,"y":61},{"t":13.5,"y":60},{"t":13.7,"y":58},{"t":13.9,"y":61},{"t":14.1,"y":60},{"t":14.3,"y":59},{"t":14.5,"y":61},{"t":14.7,"y":60},{"t":14.9,"y":58},{"t":15.1,"y":61},{"t":15.3,"y":60},{"t":15.5,"y":59},{"t":15.7,"y":61},{"t":15.9,"y":60},{"t":16.1,"y":58},{"t":16.3,"y":61},{"t":16.5,"y":60},{"t":16.7,"y":59},{"t":16.9,"y":61},{"t":17.1,"y":60},{"t":17.3,"y":58},{"t":17.5,"y":61},{"t":17.7,"y":60},{"t":17.9,"y":59},{"t":18.1,"y":61},{"t":18.3,"y":60},{"t":18.5,"y":58},{"t":18.7,"y":61},{"t":18.9,"y":60},{"t":19.1,"y":59},{"t":19.3,"y":61},{"t":19.5,"y":60},{"t":19.7,"y":58},{"t":19.9,"y":61},
{"t":1.55,"y":58},{"t":1.65,"y":63},{"t":1.75,"y":61},{"t":1.85,"y":59}],
"p3c":[{"t":0,"y":0},{"t":0.1,"y":1},{"t":0.2,"y":3},{"t":0.3,"y":5},{"t":0.4,"y":7},{"t":0.5,"y":8},{"t":0.6,"y":8},{"t":0.7,"y":8},{"t":0.8,"y":9},{"t":0.9,"y":9},{"t":1,"y":10},{"t":1.1,"y":11},{"t":1.2,"y":11},{"t":1.3,"y":12},{"t":1.4,"y":13},{"t":1.5,"y":14},{"t":1.6,"y":16},{"t":1.7,"y":17},{"t":1.8,"y":18},{"t":1.9,"y":19},{"t":2,"y":20},{"t":2.1,"y":23},{"t":2.2,"y":25},{"t":2.3,"y":27},{"t":2.4,"y":28},{"t":2.5,"y":33},{"t":2.6,"y":35},{"t":2.7,"y":36},{"t":2.8,"y":37},{"t":2.9,"y":38},{"t":3,"y":42},{"t":3.1,"y":44},{"t":3.2,"y":46},{"t":3.3,"y":48},{"t":3.4,"y":50},{"t":3.5,"y":52},{"t":3.6,"y":53},{"t":3.7,"y":53},{"t":3.8,"y":54},{"t":3.9,"y":53},{"t":4,"y":52},{"t":4.2,"y":50},{"t":4.4,"y":51},{"t":4.6,"y":49},{"t":4.8,"y":50},{"t":5,"y":52},{"t":5.2,"y":50},{"t":5.4,"y":51},{"t":5.6,"y":49},{"t":5.8,"y":50},{"t":6,"y":51},{"t":6.2,"y":49},{"t":6.4,"y":50},{"t":6.6,"y":52},{"t":6.8,"y":50},{"t":7,"y":51},{"t":7.2,"y":49},{"t":7.4,"y":50},{"t":7.6,"y":51},{"t":7.8,"y":52},{"t":7.85,"y":65},{"t":7.9,"y":75},{"t":8,"y":80},{"t":8.1,"y":78},{"t":8.2,"y":76},{"t":8.3,"y":60},{"t":8.35,"y":45},{"t":8.4,"y":33},{"t":8.5,"y":28},{"t":8.6,"y":26},{"t":8.7,"y":27},{"t":8.8,"y":29},{"t":8.9,"y":30},{"t":9,"y":45},{"t":9.05,"y":60},{"t":9.1,"y":70},{"t":9.2,"y":75},{"t":9.3,"y":73},{"t":9.4,"y":68},{"t":9.5,"y":55},{"t":9.6,"y":40},{"t":9.7,"y":32},{"t":9.8,"y":30},{"t":9.9,"y":30},{"t":10,"y":32},{"t":10.05,"y":45},{"t":10.1,"y":60},{"t":10.2,"y":68},{"t":10.3,"y":67},{"t":10.4,"y":66},{"t":10.5,"y":65},{"t":10.6,"y":66},{"t":10.7,"y":64},{"t":10.8,"y":58},{"t":10.9,"y":45},{"t":11,"y":30},{"t":11.1,"y":20},{"t":11.2,"y":15},{"t":11.3,"y":25},{"t":11.4,"y":38},{"t":11.5,"y":55},{"t":11.6,"y":62},{"t":11.8,"y":64},{"t":12,"y":63},{"t":12.2,"y":65},{"t":12.4,"y":62},{"t":12.6,"y":64},{"t":12.8,"y":63},{"t":13,"y":65},{"t":13.2,"y":62},{"t":13.25,"y":45},{"t":13.3,"y":30},{"t":13.4,"y":20},{"t":13.5,"y":13},{"t":13.55,"y":25},{"t":13.6,"y":50},{"t":13.7,"y":62},{"t":13.8,"y":64},{"t":14,"y":63},{"t":14.2,"y":65},{"t":14.4,"y":62},{"t":14.6,"y":64},{"t":14.8,"y":63},{"t":14.9,"y":72},{"t":15,"y":64},{"t":15.2,"y":62},{"t":15.4,"y":65},{"t":15.6,"y":63},{"t":15.8,"y":62},{"t":15.9,"y":55},{"t":16,"y":45},{"t":16.1,"y":30},{"t":16.2,"y":18},{"t":16.3,"y":15},{"t":16.35,"y":36},{"t":16.4,"y":55},{"t":16.5,"y":62},{"t":16.6,"y":64},{"t":16.8,"y":63},{"t":17,"y":65},{"t":17.2,"y":62},{"t":17.4,"y":64},{"t":17.6,"y":73},{"t":17.8,"y":63},{"t":18,"y":65},{"t":18.2,"y":62},{"t":18.4,"y":64},{"t":18.6,"y":63},{"t":18.8,"y":65},{"t":19,"y":62},{"t":19.2,"y":64},{"t":19.4,"y":63},{"t":19.6,"y":65},{"t":19.8,"y":62},{"t":19.95,"y":0},
{"t":4.1,"y":51},{"t":4.3,"y":49},{"t":4.5,"y":52},{"t":4.7,"y":50},{"t":4.9,"y":48},{"t":5.1,"y":51},{"t":5.3,"y":53},{"t":5.5,"y":50},{"t":5.7,"y":48},{"t":5.9,"y":52},{"t":6.1,"y":50},{"t":6.3,"y":51},{"t":6.5,"y":49},{"t":6.7,"y":52},{"t":6.9,"y":50},{"t":7.1,"y":48},{"t":7.3,"y":51},{"t":7.5,"y":53},{"t":7.7,"y":50},{"t":11.7,"y":63},{"t":11.9,"y":65},{"t":12.1,"y":62},{"t":12.3,"y":64},{"t":12.5,"y":66},{"t":12.7,"y":62},{"t":12.9,"y":64},{"t":13.1,"y":63},{"t":13.9,"y":62},{"t":14.1,"y":65},{"t":14.3,"y":63},{"t":14.5,"y":66},{"t":14.7,"y":62},{"t":15.1,"y":63},{"t":15.3,"y":65},{"t":15.5,"y":62},{"t":15.7,"y":64},{"t":16.7,"y":62},{"t":16.9,"y":65},{"t":17.1,"y":63},{"t":17.3,"y":66},{"t":17.5,"y":62},{"t":17.7,"y":64},{"t":17.9,"y":63},{"t":18.1,"y":65},{"t":18.3,"y":62},{"t":18.5,"y":64},{"t":18.7,"y":66},{"t":18.9,"y":63},{"t":19.1,"y":65},{"t":19.3,"y":62},{"t":19.5,"y":64},{"t":19.7,"y":63},{"t":19.9,"y":62},
{"t":1.05,"y":10},{"t":1.15,"y":11},{"t":1.25,"y":12},{"t":1.35,"y":12},{"t":1.45,"y":14},{"t":1.55,"y":15},{"t":1.65,"y":16},{"t":1.75,"y":17},{"t":1.85,"y":18},{"t":1.95,"y":19},{"t":2.05,"y":22},{"t":2.15,"y":24},{"t":2.25,"y":26},{"t":2.35,"y":27},{"t":2.45,"y":30},{"t":2.55,"y":34},{"t":2.65,"y":35},{"t":2.75,"y":37},{"t":2.85,"y":38},{"t":2.95,"y":40},{"t":3.05,"y":43},{"t":3.15,"y":45},{"t":3.25,"y":47},{"t":3.35,"y":49},{"t":3.45,"y":51},{"t":3.55,"y":52},{"t":3.65,"y":53},{"t":3.75,"y":54},{"t":3.85,"y":53},{"t":3.95,"y":52},{"t":7.95,"y":78},{"t":8.05,"y":80},{"t":8.15,"y":77},{"t":8.25,"y":70},{"t":8.45,"y":30},{"t":8.55,"y":27},{"t":8.65,"y":26},{"t":8.75,"y":28},{"t":8.85,"y":29},{"t":8.95,"y":38},{"t":9.15,"y":73},{"t":9.25,"y":74},{"t":9.35,"y":71},{"t":9.45,"y":62},{"t":9.55,"y":48},{"t":9.65,"y":35},{"t":9.75,"y":31},{"t":9.85,"y":29},{"t":9.95,"y":31},{"t":10.15,"y":65},{"t":10.25,"y":67},{"t":10.35,"y":66},{"t":10.45,"y":64},{"t":10.55,"y":67},{"t":10.65,"y":65},{"t":10.75,"y":62},{"t":10.85,"y":52},{"t":10.95,"y":38},{"t":11.05,"y":25},{"t":11.15,"y":17},{"t":11.25,"y":20},{"t":11.35,"y":32},{"t":11.45,"y":46},{"t":11.55,"y":60}],
"p3r":[{"t":0,"y":0},{"t":0.1,"y":2},{"t":0.2,"y":8},{"t":0.25,"y":20},{"t":0.3,"y":35},{"t":0.35,"y":45},{"t":0.4,"y":55},{"t":0.45,"y":62},{"t":0.5,"y":58},{"t":0.6,"y":65},{"t":0.7,"y":55},{"t":0.8,"y":60},{"t":0.9,"y":52},{"t":1,"y":70},{"t":1.1,"y":75},{"t":1.2,"y":78},{"t":1.3,"y":72},{"t":1.35,"y":62},{"t":1.4,"y":55},{"t":1.45,"y":48},{"t":1.5,"y":42},{"t":1.6,"y":40},{"t":1.7,"y":36},{"t":1.8,"y":35},{"t":1.9,"y":38},{"t":2,"y":40},{"t":2.1,"y":38},{"t":2.2,"y":30},{"t":2.3,"y":25},{"t":2.4,"y":22},{"t":2.5,"y":20},{"t":2.55,"y":18},{"t":2.6,"y":25},{"t":2.7,"y":35},{"t":2.8,"y":45},{"t":2.9,"y":50},{"t":3,"y":50},{"t":3.1,"y":48},{"t":3.2,"y":52},{"t":3.4,"y":49},{"t":3.6,"y":53},{"t":3.8,"y":48},{"t":4,"y":51},{"t":4.2,"y":54},{"t":4.4,"y":47},{"t":4.6,"y":51},{"t":4.8,"y":50},{"t":4.85,"y":40},{"t":4.9,"y":0},{"t":4.95,"y":35},{"t":5,"y":28},{"t":5.1,"y":20},{"t":5.2,"y":18},{"t":5.25,"y":15},{"t":5.3,"y":36},{"t":5.4,"y":45},{"t":5.5,"y":50},{"t":5.6,"y":53},{"t":5.8,"y":48},{"t":6,"y":51},{"t":6.2,"y":47},{"t":6.4,"y":52},{"t":6.6,"y":54},{"t":6.8,"y":49},{"t":7,"y":51},{"t":7.2,"y":47},{"t":7.4,"y":50},{"t":7.6,"y":53},{"t":7.8,"y":48},{"t":8,"y":51},{"t":8.2,"y":50},{"t":8.4,"y":53},{"t":8.6,"y":48},{"t":8.8,"y":52},{"t":9,"y":50},{"t":9.2,"y":54},{"t":9.4,"y":49},{"t":9.6,"y":51},{"t":9.8,"y":47},{"t":10,"y":52},{"t":10.2,"y":49},{"t":10.4,"y":53},{"t":10.6,"y":50},{"t":10.8,"y":52},{"t":11,"y":48},{"t":11.2,"y":51},{"t":11.4,"y":54},{"t":11.6,"y":50},{"t":11.8,"y":48},{"t":12,"y":52},{"t":12.2,"y":50},{"t":12.4,"y":53},{"t":12.6,"y":49},{"t":12.8,"y":51},{"t":13,"y":48},{"t":13.2,"y":52},{"t":13.4,"y":50},{"t":13.6,"y":54},{"t":13.8,"y":49},{"t":14,"y":51},{"t":14.2,"y":48},{"t":14.4,"y":52},{"t":14.6,"y":50},{"t":14.8,"y":53},{"t":15,"y":49},{"t":15.2,"y":51},{"t":15.4,"y":48},{"t":15.6,"y":52},{"t":15.8,"y":50},{"t":16,"y":54},{"t":16.2,"y":49},{"t":16.4,"y":51},{"t":16.6,"y":48},{"t":16.8,"y":52},{"t":17,"y":50},{"t":17.2,"y":53},{"t":17.4,"y":49},{"t":17.6,"y":51},{"t":17.8,"y":48},{"t":18,"y":52},{"t":18.2,"y":50},{"t":18.4,"y":54},{"t":18.6,"y":49},{"t":18.8,"y":51},{"t":19,"y":48},{"t":19.2,"y":52},{"t":19.4,"y":50},{"t":19.6,"y":53},{"t":19.8,"y":49},{"t":20,"y":52},
{"t":3.3,"y":51},{"t":3.5,"y":48},{"t":3.7,"y":52},{"t":3.9,"y":50},{"t":4.1,"y":47},{"t":4.3,"y":52},{"t":4.5,"y":50},{"t":4.7,"y":53},{"t":5.7,"y":50},{"t":5.9,"y":47},{"t":6.1,"y":52},{"t":6.3,"y":50},{"t":6.5,"y":48},{"t":6.7,"y":53},{"t":6.9,"y":50},{"t":7.1,"y":47},{"t":7.3,"y":52},{"t":7.5,"y":49},{"t":7.7,"y":51},{"t":7.9,"y":54},{"t":8.1,"y":48},{"t":8.3,"y":52},{"t":8.5,"y":50},{"t":8.7,"y":47},{"t":8.9,"y":53},{"t":9.1,"y":50},{"t":9.3,"y":48},{"t":9.5,"y":52},{"t":9.7,"y":50},{"t":9.9,"y":54},{"t":10.1,"y":48},{"t":10.3,"y":51},{"t":10.5,"y":53},{"t":10.7,"y":48},{"t":10.9,"y":51},{"t":11.1,"y":53},{"t":11.3,"y":49},{"t":11.5,"y":52},{"t":11.7,"y":50},{"t":11.9,"y":54},{"t":12.1,"y":48},{"t":12.3,"y":51},{"t":12.5,"y":53},{"t":12.7,"y":48},{"t":12.9,"y":52},{"t":13.1,"y":50},{"t":13.3,"y":47},{"t":13.5,"y":52},{"t":13.7,"y":50},{"t":13.9,"y":53},{"t":14.1,"y":48},{"t":14.3,"y":51},{"t":14.5,"y":54},{"t":14.7,"y":49},{"t":14.9,"y":51},{"t":15.1,"y":53},{"t":15.3,"y":48},{"t":15.5,"y":51},{"t":15.7,"y":54},{"t":15.9,"y":49},{"t":16.1,"y":52},{"t":16.3,"y":48},{"t":16.5,"y":53},{"t":16.7,"y":50},{"t":16.9,"y":47},{"t":17.1,"y":52},{"t":17.3,"y":50},{"t":17.5,"y":54},{"t":17.7,"y":48},{"t":17.9,"y":51},{"t":18.1,"y":53},{"t":18.3,"y":48},{"t":18.5,"y":51},{"t":18.7,"y":54},{"t":18.9,"y":50},{"t":19.1,"y":53},{"t":19.3,"y":48},{"t":19.5,"y":51},{"t":19.7,"y":54},{"t":19.9,"y":50},
{"t":0.55,"y":62},{"t":0.65,"y":58},{"t":0.75,"y":65},{"t":0.85,"y":55},{"t":0.95,"y":62},{"t":1.05,"y":73},{"t":1.15,"y":76},{"t":1.25,"y":74},{"t":1.55,"y":42},{"t":1.65,"y":38},{"t":1.75,"y":37},{"t":1.85,"y":40},{"t":1.95,"y":36},{"t":2.05,"y":42},{"t":2.15,"y":35},{"t":2.25,"y":28},{"t":2.35,"y":24},{"t":2.45,"y":21},{"t":2.65,"y":30},{"t":2.75,"y":40},{"t":2.85,"y":48},{"t":2.95,"y":52},{"t":3.05,"y":49},{"t":3.15,"y":51},{"t":3.25,"y":50},{"t":3.35,"y":52},{"t":3.45,"y":49}],
"p3g":[{"t":0,"y":2},{"t":0.1,"y":4},{"t":0.2,"y":15},{"t":0.25,"y":25},{"t":0.3,"y":40},{"t":0.35,"y":55},{"t":0.4,"y":70},{"t":0.5,"y":75},{"t":0.6,"y":72},{"t":0.7,"y":78},{"t":0.8,"y":65},{"t":0.85,"y":62},{"t":0.9,"y":0},{"t":0.95,"y":64},{"t":1,"y":68},{"t":1.1,"y":72},{"t":1.2,"y":70},{"t":1.3,"y":66},{"t":1.4,"y":0},{"t":1.45,"y":62},{"t":1.5,"y":0},{"t":1.55,"y":58},{"t":1.6,"y":55},{"t":1.7,"y":52},{"t":1.8,"y":55},{"t":1.9,"y":53},{"t":2,"y":52},{"t":2.1,"y":50},{"t":2.2,"y":0},{"t":2.25,"y":48},{"t":2.3,"y":50},{"t":2.35,"y":30},{"t":2.4,"y":15},{"t":2.5,"y":12},{"t":2.6,"y":8},{"t":2.7,"y":14},{"t":2.8,"y":12},{"t":2.9,"y":15},{"t":3,"y":11},{"t":3.2,"y":14},{"t":3.4,"y":12},{"t":3.6,"y":16},{"t":3.8,"y":13},{"t":4,"y":11},{"t":4.2,"y":14},{"t":4.4,"y":12},{"t":4.6,"y":15},{"t":4.8,"y":13},{"t":5,"y":16},{"t":5.2,"y":12},{"t":5.4,"y":14},{"t":5.6,"y":11},{"t":5.8,"y":15},{"t":6,"y":13},{"t":6.2,"y":16},{"t":6.4,"y":12},{"t":6.6,"y":14},{"t":6.8,"y":17},{"t":7,"y":13},{"t":7.2,"y":15},{"t":7.4,"y":18},{"t":7.6,"y":14},{"t":7.8,"y":16},{"t":8,"y":18},{"t":8.2,"y":15},{"t":8.4,"y":19},{"t":8.6,"y":17},{"t":8.8,"y":20},{"t":9,"y":16},{"t":9.2,"y":18},{"t":9.4,"y":21},{"t":9.6,"y":17},{"t":9.8,"y":19},{"t":10,"y":16},{"t":10.2,"y":20},{"t":10.4,"y":22},{"t":10.6,"y":18},{"t":10.8,"y":21},{"t":11,"y":19},{"t":11.2,"y":23},{"t":11.4,"y":20},{"t":11.6,"y":24},{"t":11.8,"y":21},{"t":12,"y":19},{"t":12.2,"y":23},{"t":12.4,"y":25},{"t":12.6,"y":21},{"t":12.8,"y":24},{"t":13,"y":22},{"t":13.2,"y":26},{"t":13.4,"y":23},{"t":13.6,"y":20},{"t":13.8,"y":24},{"t":14,"y":22},{"t":14.2,"y":26},{"t":14.4,"y":23},{"t":14.6,"y":25},{"t":14.8,"y":28},{"t":15,"y":24},{"t":15.2,"y":26},{"t":15.4,"y":23},{"t":15.6,"y":27},{"t":15.8,"y":25},{"t":16,"y":28},{"t":16.2,"y":24},{"t":16.4,"y":30},{"t":16.6,"y":27},{"t":16.8,"y":29},{"t":17,"y":25},{"t":17.2,"y":28},{"t":17.4,"y":31},{"t":17.6,"y":27},{"t":17.8,"y":29},{"t":18,"y":26},{"t":18.2,"y":30},{"t":18.4,"y":28},{"t":18.6,"y":31},{"t":18.8,"y":27},{"t":19,"y":30},{"t":19.2,"y":32},{"t":19.4,"y":28},{"t":19.6,"y":31},{"t":19.8,"y":29},{"t":20,"y":32},
{"t":3.1,"y":13},{"t":3.3,"y":10},{"t":3.5,"y":15},{"t":3.7,"y":12},{"t":3.9,"y":14},{"t":4.1,"y":12},{"t":4.3,"y":15},{"t":4.5,"y":11},{"t":4.7,"y":14},{"t":4.9,"y":16},{"t":5.1,"y":13},{"t":5.3,"y":15},{"t":5.5,"y":12},{"t":5.7,"y":16},{"t":5.9,"y":12},{"t":6.1,"y":14},{"t":6.3,"y":13},{"t":6.5,"y":16},{"t":6.7,"y":12},{"t":6.9,"y":15},{"t":7.1,"y":16},{"t":7.3,"y":13},{"t":7.5,"y":15},{"t":7.7,"y":17},{"t":7.9,"y":14},{"t":8.1,"y":17},{"t":8.3,"y":18},{"t":8.5,"y":16},{"t":8.7,"y":19},{"t":8.9,"y":17},{"t":9.1,"y":19},{"t":9.3,"y":17},{"t":9.5,"y":20},{"t":9.7,"y":18},{"t":9.9,"y":20},{"t":10.1,"y":18},{"t":10.3,"y":21},{"t":10.5,"y":19},{"t":10.7,"y":22},{"t":10.9,"y":20},{"t":11.1,"y":22},{"t":11.3,"y":19},{"t":11.5,"y":23},{"t":11.7,"y":20},{"t":11.9,"y":23},{"t":12.1,"y":22},{"t":12.3,"y":20},{"t":12.5,"y":24},{"t":12.7,"y":23},{"t":12.9,"y":21},{"t":13.1,"y":25},{"t":13.3,"y":22},{"t":13.5,"y":24},{"t":13.7,"y":22},{"t":13.9,"y":25},{"t":14.1,"y":24},{"t":14.3,"y":23},{"t":14.5,"y":27},{"t":14.7,"y":24},{"t":14.9,"y":26},{"t":15.1,"y":23},{"t":15.3,"y":27},{"t":15.5,"y":25},{"t":15.7,"y":24},{"t":15.9,"y":27},{"t":16.1,"y":26},{"t":16.3,"y":28},{"t":16.5,"y":26},{"t":16.7,"y":30},{"t":16.9,"y":27},{"t":17.1,"y":29},{"t":17.3,"y":27},{"t":17.5,"y":30},{"t":17.7,"y":28},{"t":17.9,"y":31},{"t":18.1,"y":28},{"t":18.3,"y":31},{"t":18.5,"y":29},{"t":18.7,"y":32},{"t":18.9,"y":29},{"t":19.1,"y":31},{"t":19.3,"y":30},{"t":19.5,"y":33},{"t":19.7,"y":29},{"t":19.9,"y":31},
{"t":0.45,"y":72},{"t":0.55,"y":78},{"t":0.65,"y":70},{"t":0.75,"y":74},{"t":1.05,"y":70},{"t":1.15,"y":74},{"t":1.25,"y":68},{"t":1.35,"y":64},{"t":1.65,"y":54},{"t":1.75,"y":50},{"t":1.85,"y":56},{"t":1.95,"y":52},{"t":2.05,"y":54},{"t":2.15,"y":49},{"t":2.45,"y":13},{"t":2.55,"y":10},{"t":2.65,"y":12},{"t":2.75,"y":15},{"t":2.85,"y":10},{"t":2.95,"y":14}],
"p3i":[{"t":0,"y":0},{"t":0.1,"y":2},{"t":0.2,"y":8},{"t":0.3,"y":28},{"t":0.35,"y":38},{"t":0.4,"y":48},{"t":0.45,"y":60},{"t":0.5,"y":70},{"t":0.55,"y":75},{"t":0.6,"y":78},{"t":0.7,"y":76},{"t":0.8,"y":72},{"t":0.85,"y":0},{"t":0.9,"y":70},{"t":1,"y":68},{"t":1.05,"y":0},{"t":1.1,"y":74},{"t":1.15,"y":0},{"t":1.2,"y":75},{"t":1.3,"y":72},{"t":1.35,"y":65},{"t":1.4,"y":58},{"t":1.45,"y":50},{"t":1.5,"y":45},{"t":1.6,"y":42},{"t":1.7,"y":40},{"t":1.8,"y":41},{"t":1.9,"y":40},{"t":2,"y":42},{"t":2.1,"y":38},{"t":2.2,"y":32},{"t":2.3,"y":28},{"t":2.4,"y":24},{"t":2.5,"y":20},{"t":2.55,"y":22},{"t":2.6,"y":68},{"t":2.7,"y":72},{"t":2.8,"y":70},{"t":2.9,"y":66},{"t":3,"y":60},{"t":3.1,"y":56},{"t":3.2,"y":55},{"t":3.3,"y":20},{"t":3.35,"y":78},{"t":3.4,"y":70},{"t":3.5,"y":66},{"t":3.6,"y":64},{"t":3.7,"y":62},{"t":3.8,"y":60},{"t":3.9,"y":62},{"t":4,"y":60},{"t":4.2,"y":61},{"t":4.4,"y":59},{"t":4.6,"y":44},{"t":4.8,"y":60},{"t":5,"y":62},{"t":5.2,"y":59},{"t":5.3,"y":70},{"t":5.4,"y":61},{"t":5.6,"y":58},{"t":5.8,"y":60},{"t":6,"y":62},{"t":6.2,"y":59},{"t":6.4,"y":61},{"t":6.6,"y":60},{"t":6.8,"y":58},{"t":7,"y":61},{"t":7.2,"y":62},{"t":7.3,"y":50},{"t":7.4,"y":42},{"t":7.5,"y":38},{"t":7.6,"y":40},{"t":7.7,"y":16},{"t":7.8,"y":0},{"t":7.85,"y":60},{"t":8,"y":62},{"t":8.2,"y":60},{"t":8.4,"y":61},{"t":8.6,"y":59},{"t":8.8,"y":62},{"t":9,"y":60},{"t":9.2,"y":61},{"t":9.3,"y":62},{"t":9.4,"y":58},{"t":9.5,"y":55},{"t":9.6,"y":50},{"t":9.7,"y":46},{"t":9.8,"y":43},{"t":9.9,"y":40},{"t":10,"y":38},{"t":10.1,"y":20},{"t":10.2,"y":45},{"t":10.3,"y":73},{"t":10.4,"y":64},{"t":10.6,"y":62},{"t":10.8,"y":60},{"t":11,"y":61},{"t":11.2,"y":59},{"t":11.4,"y":62},{"t":11.6,"y":60},{"t":11.8,"y":58},{"t":12,"y":61},{"t":12.2,"y":70},{"t":12.4,"y":60},{"t":12.6,"y":59},{"t":12.8,"y":62},{"t":13,"y":60},{"t":13.2,"y":58},{"t":13.4,"y":61},{"t":13.6,"y":60},{"t":13.8,"y":62},{"t":14,"y":59},{"t":14.2,"y":61},{"t":14.4,"y":60},{"t":14.6,"y":58},{"t":14.8,"y":61},{"t":14.9,"y":79},{"t":14.95,"y":0},{"t":15,"y":60},{"t":15.2,"y":62},{"t":15.4,"y":59},{"t":15.6,"y":61},{"t":15.8,"y":60},{"t":16,"y":58},{"t":16.2,"y":61},{"t":16.4,"y":58},{"t":16.5,"y":55},{"t":16.6,"y":50},{"t":16.7,"y":45},{"t":16.8,"y":42},{"t":16.9,"y":40},{"t":17,"y":38},{"t":17.1,"y":36},{"t":17.2,"y":18},{"t":17.25,"y":75},{"t":17.3,"y":74},{"t":17.4,"y":55},{"t":17.5,"y":60},{"t":17.6,"y":58},{"t":17.8,"y":61},{"t":18,"y":59},{"t":18.2,"y":57},{"t":18.4,"y":60},{"t":18.6,"y":58},{"t":18.8,"y":61},{"t":19,"y":59},{"t":19.2,"y":57},{"t":19.4,"y":60},{"t":19.6,"y":58},{"t":19.8,"y":61},{"t":20,"y":59},
{"t":4.1,"y":62},{"t":4.3,"y":60},{"t":4.5,"y":61},{"t":4.7,"y":59},{"t":4.9,"y":61},{"t":5.1,"y":60},{"t":5.5,"y":59},{"t":5.7,"y":61},{"t":5.9,"y":60},{"t":6.1,"y":58},{"t":6.3,"y":61},{"t":6.5,"y":62},{"t":6.7,"y":59},{"t":6.9,"y":60},{"t":7.1,"y":63},{"t":7.9,"y":61},{"t":8.1,"y":59},{"t":8.3,"y":62},{"t":8.5,"y":60},{"t":8.7,"y":61},{"t":8.9,"y":59},{"t":9.1,"y":62},{"t":10.5,"y":63},{"t":10.7,"y":61},{"t":10.9,"y":59},{"t":11.1,"y":62},{"t":11.3,"y":60},{"t":11.5,"y":58},{"t":11.7,"y":61},{"t":11.9,"y":60},{"t":12.1,"y":62},{"t":12.3,"y":59},{"t":12.5,"y":61},{"t":12.7,"y":60},{"t":12.9,"y":58},{"t":13.1,"y":61},{"t":13.3,"y":60},{"t":13.5,"y":62},{"t":13.7,"y":59},{"t":13.9,"y":61},{"t":14.1,"y":60},{"t":14.3,"y":58},{"t":14.5,"y":61},{"t":14.7,"y":60},{"t":15.1,"y":62},{"t":15.3,"y":59},{"t":15.5,"y":61},{"t":15.7,"y":60},{"t":15.9,"y":58},{"t":16.1,"y":61},{"t":16.3,"y":60},{"t":17.7,"y":59},{"t":17.9,"y":61},{"t":18.1,"y":58},{"t":18.3,"y":60},{"t":18.5,"y":61},{"t":18.7,"y":59},{"t":18.9,"y":57},{"t":19.1,"y":60},{"t":19.3,"y":58},{"t":19.5,"y":61},{"t":19.7,"y":59},{"t":19.9,"y":60},
{"t":0.65,"y":77},{"t":0.75,"y":74},{"t":0.95,"y":72},{"t":1.25,"y":73},{"t":1.55,"y":43},{"t":1.65,"y":41},{"t":1.75,"y":42},{"t":1.85,"y":39},{"t":1.95,"y":41},{"t":2.05,"y":40},{"t":2.15,"y":35},{"t":2.25,"y":30},{"t":2.35,"y":26},{"t":2.45,"y":22},{"t":2.65,"y":70},{"t":2.75,"y":71},{"t":2.85,"y":68},{"t":2.95,"y":63},{"t":3.05,"y":58},{"t":3.15,"y":55},{"t":3.25,"y":57},{"t":3.45,"y":68},{"t":3.55,"y":65},{"t":3.65,"y":63},{"t":3.75,"y":61},{"t":3.85,"y":62},{"t":3.95,"y":61}]
},
"vconcat":[
{"width":721,"height":72,"title":"CCA comparison (Pattern 1)",
 "encoding":{"x":{"field":"t","type":"quantitative","scale":{"domain":[0,20]},"axis":{"values":[0,2,4,6,8,10,12,14,16,18,20],"title":"Time(s)"}},
  "y":{"field":"y","type":"quantitative","scale":{"domain":[0,100]},"axis":{"values":[0,50,100],"title":"Throughput (Mbps)"}}},
 "layer":[
  {"data":{"name":"p1c"},"mark":"point","encoding":{"color":{"datum":"CUBIC","type":"nominal","scale":{"domain":["CUBIC","NewReno","Westwood+","Illinois"],"range":["#0000ff","#ff0000","#00ff00","#000033"]},"legend":{"title":null}}}},
  {"data":{"name":"p1r"},"mark":"point","encoding":{"color":{"datum":"NewReno","type":"nominal"}}},
  {"data":{"name":"p1g"},"mark":"point","encoding":{"color":{"datum":"Westwood+","type":"nominal"}}},
  {"data":{"name":"p1i"},"mark":"point","encoding":{"color":{"datum":"Illinois","type":"nominal"}}}
 ]},
{"width":721,"height":72,"title":"CCA comparison (Pattern 2)",
 "encoding":{"x":{"field":"t","type":"quantitative","scale":{"domain":[0,20]},"axis":{"values":[0,2,4,6,8,10,12,14,16,18,20],"title":"Time(s)"}},
  "y":{"field":"y","type":"quantitative","scale":{"domain":[0,100]},"axis":{"values":[0,50,100],"title":"Throughput (Mbps)"}}},
 "layer":[
  {"data":{"name":"p2c"},"mark":"point","encoding":{"color":{"datum":"CUBIC","type":"nominal"}}},
  {"data":{"name":"p2r"},"mark":"point","encoding":{"color":{"datum":"NewReno","type":"nominal"}}},
  {"data":{"name":"p2g"},"mark":"point","encoding":{"color":{"datum":"Westwood+","type":"nominal"}}},
  {"data":{"name":"p2i"},"mark":"point","encoding":{"color":{"datum":"Illinois","type":"nominal"}}}
 ]},
{"width":721,"height":72,"title":"CCA comparison (Pattern 3)",
 "encoding":{"x":{"field":"t","type":"quantitative","scale":{"domain":[0,20]},"axis":{"values":[0,2,4,6,8,10,12,14,16,18,20],"title":"Time(s)"}},
  "y":{"field":"y","type":"quantitative","scale":{"domain":[0,100]},"axis":{"values":[0,50,100],"title":"Throughput (Mbps)"}}},
 "layer":[
  {"data":{"name":"p3c"},"mark":"point","encoding":{"color":{"datum":"CUBIC","type":"nominal"}}},
  {"data":{"name":"p3r"},"mark":"point","encoding":{"color":{"datum":"NewReno","type":"nominal"}}},
  {"data":{"name":"p3g"},"mark":"point","encoding":{"color":{"datum":"Westwood+","type":"nominal"}}},
  {"data":{"name":"p3i"},"mark":"point","encoding":{"color":{"datum":"Illinois","type":"nominal"}}}
 ]}
],
"resolve":{"scale":{"color":"shared"}}
}
